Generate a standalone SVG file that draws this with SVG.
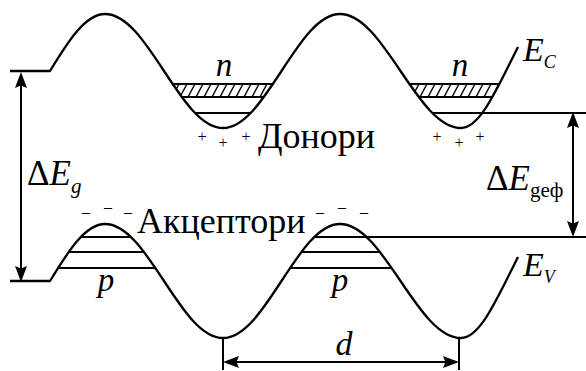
<svg xmlns="http://www.w3.org/2000/svg" width="586" height="371" viewBox="0 0 586 371">
<defs>
<style>
.band{fill:none;stroke:#000;stroke-width:2.3;stroke-linejoin:round}
.lvl{stroke:#000;stroke-width:2;fill:none}
.arr{stroke:#000;stroke-width:2;fill:none;marker-start:url(#ah);marker-end:url(#ah)}
.t{font-family:"Liberation Serif","DejaVu Serif",serif;fill:#000}
.i{font-style:italic}
</style>
<marker id="ah" markerUnits="userSpaceOnUse" markerWidth="17" markerHeight="12" refX="8" refY="6" orient="auto-start-reverse"><path d="M0,0 L16,6 L0,12 L2.5,6 z" fill="#000"/></marker>
<pattern id="hatch" patternUnits="userSpaceOnUse" x="0" y="84" width="8" height="13"><path d="M-4,13 L3,0 M4,13 L11,0" stroke="#000" stroke-width="1.4"/></pattern>
<path id="bandpath" d="M10,71 H50 C67.9,41.8 85.1,14 105,14 C126.4,14 144.8,41.8 164,71 C183.2,100.2 201.6,128 223,128 C244.2,128 262.4,100.2 281.5,71 C300.6,41.8 318.8,14 340,14 C361.9,14 380.8,41.8 400.5,71 C420.2,100.2 439.1,128 461,128 C477.3,128 491.3,100.2 506,71 L518,47"/>
</defs>
<rect width="586" height="371" fill="#fff"/>

<g id="conduction-band">
<use href="#bandpath" class="band"/>
<path class="lvl" d="M432.5,113 H586"/>
</g>

<g id="valence-band">
<use href="#bandpath" class="band" transform="translate(0,210)"/>
<path class="lvl" d="M314.3,237 H586"/>
</g>

<g id="donor-levels">
<polygon points="172.6,84 273.4,84 264.2,97 181.8,97" fill="url(#hatch)"/>
<path class="lvl" d="M172.6,84 H273.4 M181.8,97 H264.2 M195.2,113 H250.8"/>
<polygon points="409.4,84 499.4,84 492.4,97 418.7,97" fill="url(#hatch)"/>
<path class="lvl" d="M409.4,84 H499.4 M418.7,97 H492.4"/>
</g>

<g id="acceptor-levels">
<path class="lvl" d="M80.9,237 H130.9 M68.7,252 H143.9 M58.1,268 H155.4"/>
<path class="lvl" d="M301.4,252 H379.9 M290.1,268 H391.6"/>
</g>

<g id="connectors">
<line class="arr" x1="21" y1="80" x2="21" y2="274"/>
<line class="arr" x1="573" y1="120" x2="573" y2="229"/>
<line class="arr" x1="231" y1="362" x2="451" y2="362"/>
<path class="lvl" d="M223,338 V370 M459,338 V370"/>
</g>

<g id="labels">
<text class="t i" x="224" y="76" font-size="33" text-anchor="middle">n</text>
<text class="t i" x="460" y="76" font-size="33" text-anchor="middle">n</text>
<text class="t i" x="106" y="291" font-size="33" text-anchor="middle">p</text>
<text class="t i" x="340" y="291" font-size="33" text-anchor="middle">p</text>
<text class="t i" x="344" y="355" font-size="34" text-anchor="middle">d</text>
<text class="t i" x="523" y="61" font-size="34">E<tspan font-size="18" dy="7">C</tspan></text>
<text class="t i" x="523" y="276" font-size="34">E<tspan font-size="18" dy="7">V</tspan></text>
<text class="t" x="27" y="185" font-size="35">Δ<tspan class="i">E</tspan><tspan class="i" font-size="21" dy="8">g</tspan></text>
<text class="t" x="486" y="190" font-size="35">Δ<tspan class="i">E</tspan><tspan font-size="21" dy="7">geф</tspan></text>
<text class="t" x="258" y="148" font-size="36">Донори</text>
<text class="t" x="137" y="233" font-size="36">Акцептори</text>
<g class="t" font-size="16" text-anchor="middle">
<text x="202" y="142">+</text><text x="223" y="148">+</text><text x="246" y="142">+</text>
<text x="437" y="142">+</text><text x="459" y="148">+</text><text x="480" y="142">+</text>
<text x="86" y="217">–</text><text x="108" y="212">–</text><text x="128" y="217">–</text>
<text x="320" y="217">–</text><text x="342" y="212">–</text><text x="364" y="217">–</text>
</g>
</g>
</svg>
